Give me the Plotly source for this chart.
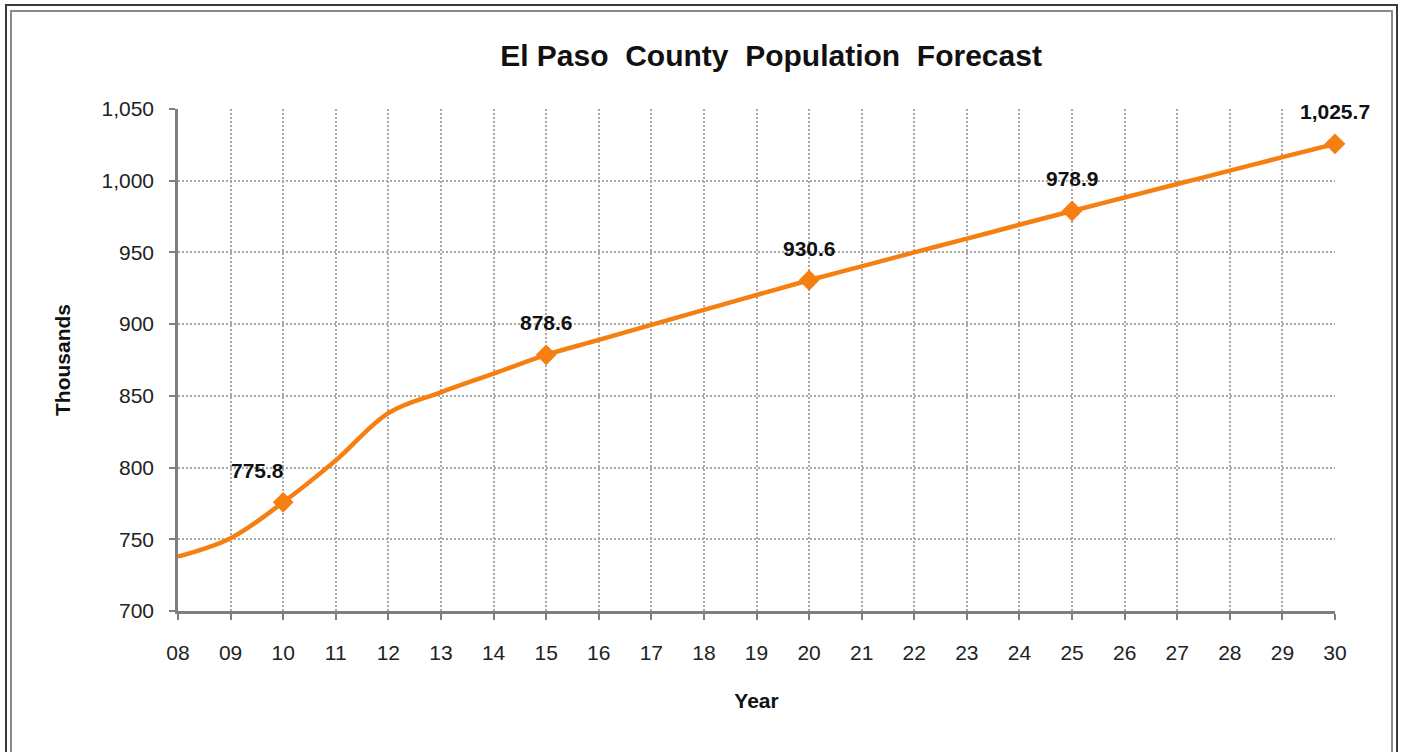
import plotly.graph_objects as go

# ---- data ----
years = ["08", "09", "10", "11", "12", "13", "14", "15", "16", "17", "18", "19",
         "20", "21", "22", "23", "24", "25", "26", "27", "28", "29", "30"]
population = [738.0, 750.8, 775.8, 805.0, 838.0, 852.5, 865.5, 878.6, 889.0, 899.5,
              910.0, 920.3, 930.6, 940.3, 950.0, 959.6, 969.3, 978.9, 988.3, 997.7,
              1007.0, 1016.4, 1025.7]
marker_years = ["10", "15", "20", "25", "30"]
marker_values = [775.8, 878.6, 930.6, 978.9, 1025.7]
label_xshift = [-26, 0, 0, 0, 0]
y_ticks = [700, 750, 800, 850, 900, 950, 1000, 1050]

ORANGE = "#F57F10"
FONT = "Liberation Sans, Arial, sans-serif"

fig = go.Figure()
fig.add_trace(go.Scatter(
    x=years, y=population, mode="lines",
    line=dict(color=ORANGE, width=4.5, shape="spline", smoothing=1.0),
    hoverinfo="x+y", showlegend=False, cliponaxis=False))
fig.add_trace(go.Scatter(
    x=marker_years, y=marker_values, mode="markers",
    marker=dict(symbol="diamond", size=16, color=ORANGE, line=dict(width=0)),
    showlegend=False, cliponaxis=False))

for xv, yv, dx in zip(marker_years, marker_values, label_xshift):
    fig.add_annotation(x=years.index(xv), y=yv, text="<b>{:,.1f}</b>".format(yv), showarrow=False,
                       yshift=32, xshift=dx, font=dict(family=FONT, size=21, color="#111"))

# frame (double border)
L, R, T, B = 178, 1335, 109, 611
W, H = R - L, B - T
def px(xp): return (xp - L) / W
def py(yp): return (B - yp) / H
fig.add_shape(type="rect", xref="paper", yref="paper",
              x0=px(6), x1=px(1397), y0=py(770), y1=py(5),
              line=dict(color="#3a3a3a", width=2), layer="below")
fig.add_shape(type="rect", xref="paper", yref="paper",
              x0=px(11), x1=px(1392), y0=py(770), y1=py(11),
              line=dict(color="#8a8a8a", width=2), layer="below")

grid = dict(showgrid=True, gridcolor="#a8a8a8", gridwidth=1.5, griddash="2px,2px")

fig.update_layout(
    width=1401, height=752,
    margin=dict(l=L, r=1401 - R, t=T, b=752 - B),
    paper_bgcolor="white", plot_bgcolor="white",
    font=dict(family=FONT, size=21, color="#222"),
    title=dict(text="<b>El Paso  County  Population  Forecast</b>", x=771 / 1401, xanchor="center",
               y=1 - 55 / 752, yanchor="middle", xref="container", yref="container",
               font=dict(family=FONT, size=30, color="#111")),
    xaxis=dict(type="category", range=[0, len(years) - 1], tickvals=years, ticktext=years,
               showline=True, linecolor="#7f7f7f", linewidth=2.5,
               ticks="outside", ticklen=6, tickwidth=2, tickcolor="#7f7f7f",
               ticklabelstandoff=15, zeroline=False,
               title=dict(text="<b>Year</b>", standoff=31, font=dict(family=FONT, size=21, color="#111")),
               **grid),
    yaxis=dict(range=[700, 1050], tickvals=y_ticks, tickformat=",d",
               showline=True, linecolor="#7f7f7f", linewidth=2.5,
               ticks="outside", ticklen=6, tickwidth=2, tickcolor="#7f7f7f",
               ticklabelstandoff=11, zeroline=False,
               title=dict(text="<b>Thousands</b>", standoff=26, font=dict(family=FONT, size=21, color="#111")),
               **grid),
)

fig.write_html("out.html", config={"displayModeBar": False},
               post_script="document.body.style.margin='0';")
